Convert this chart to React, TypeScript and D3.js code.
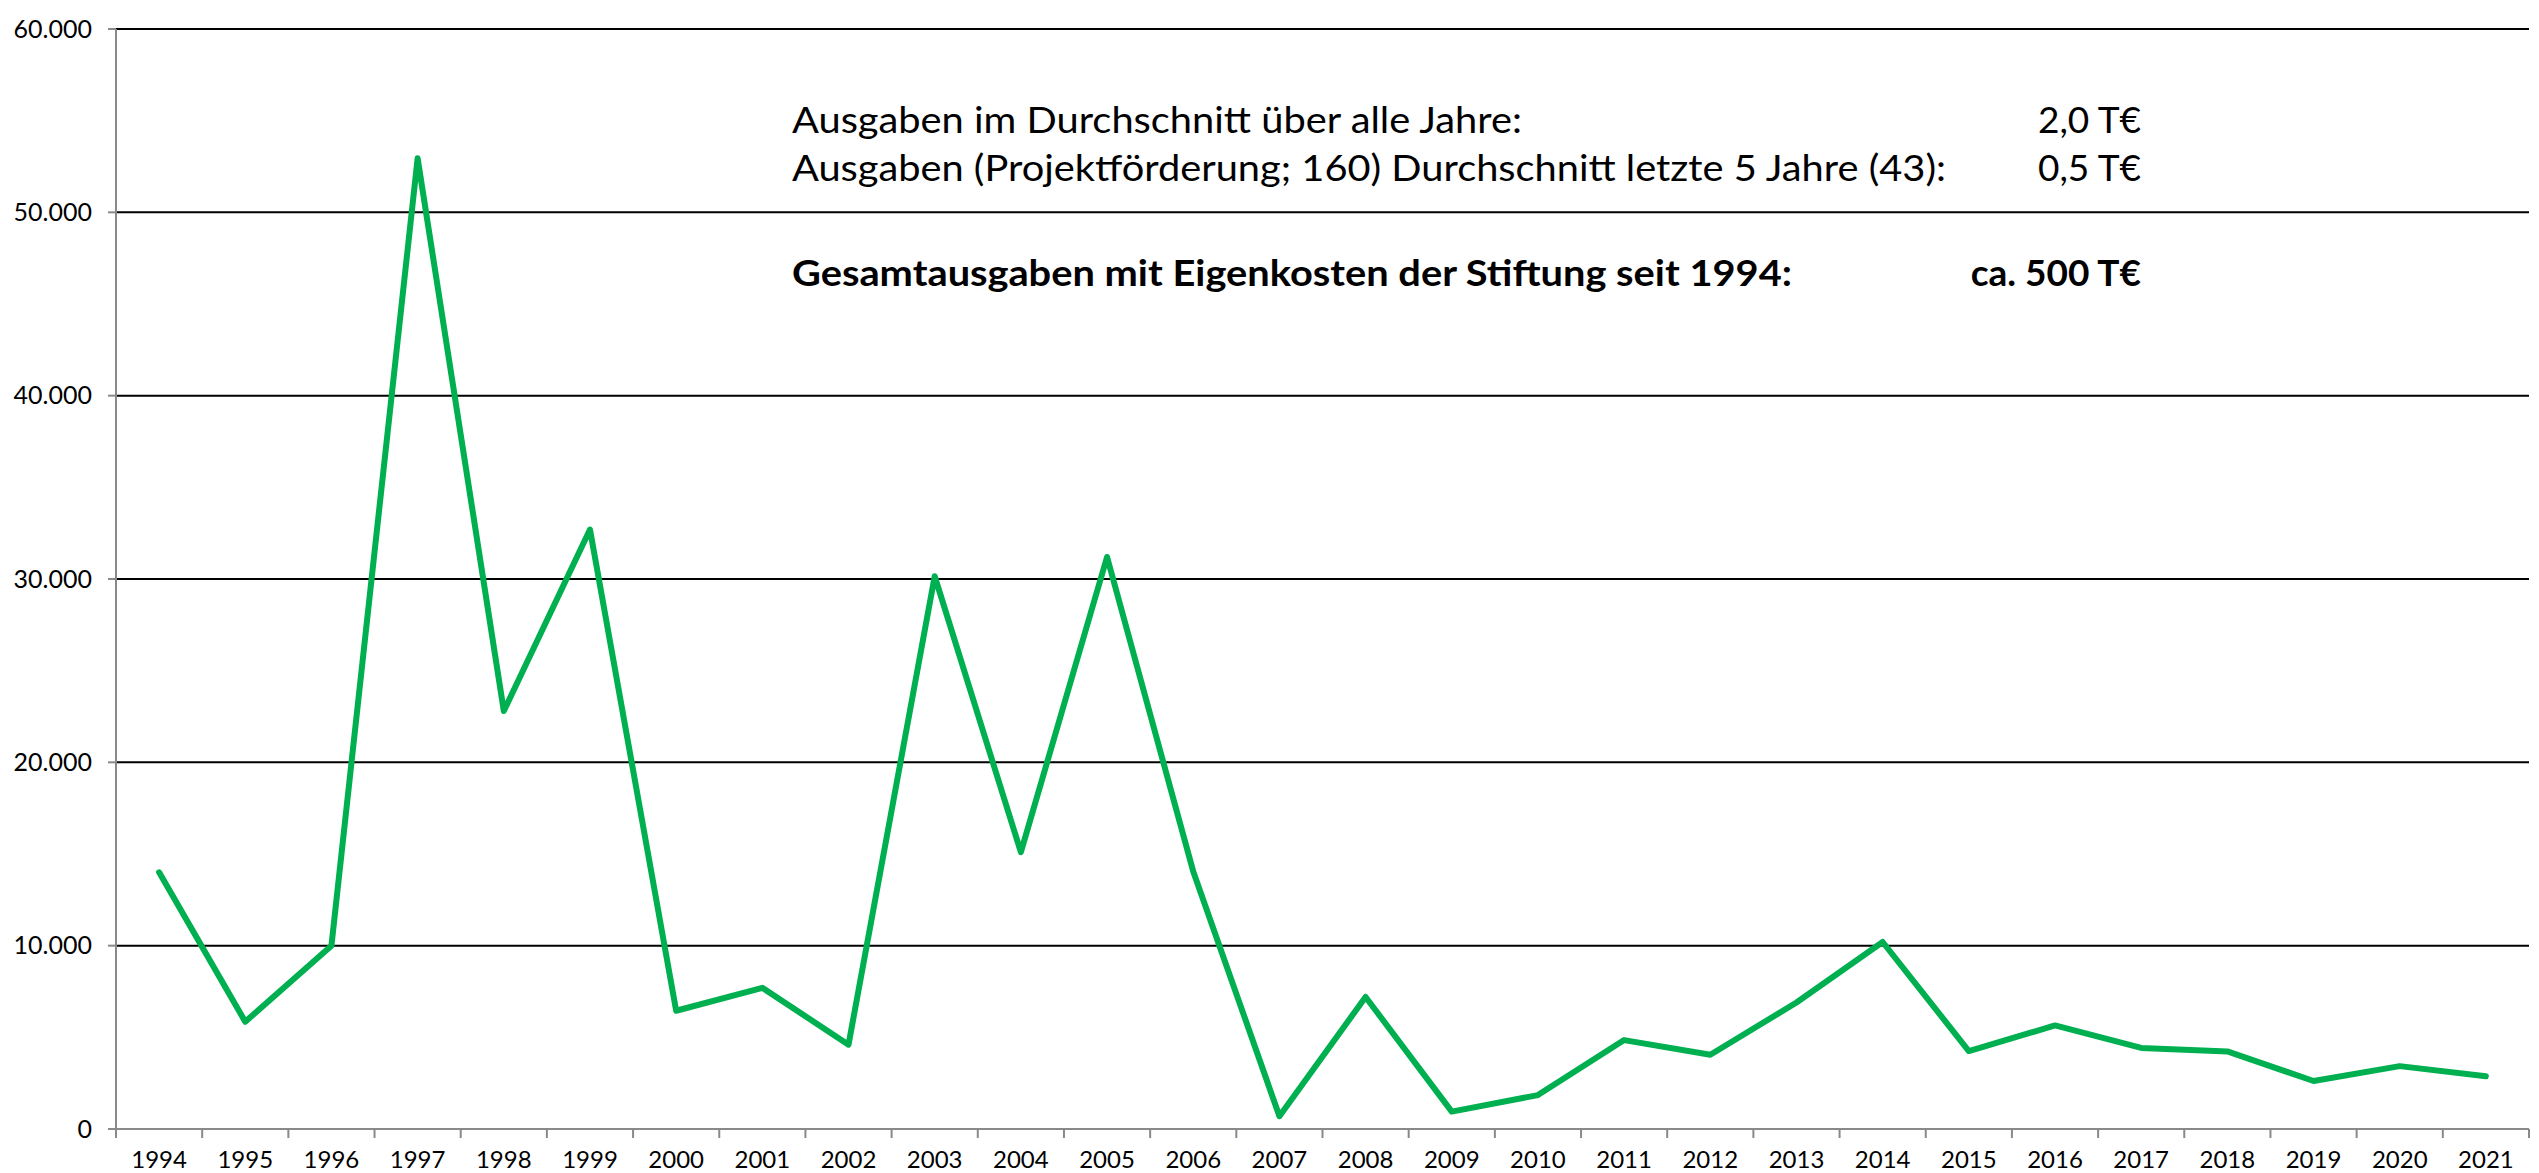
import React from "react";
import * as d3 from "d3";

const years = ["1994","1995","1996","1997","1998","1999","2000","2001","2002","2003","2004","2005","2006","2007","2008","2009","2010","2011","2012","2013","2014","2015","2016","2017","2018","2019","2020","2021"];
const expenses = [14000,5850,10000,52950,22800,32700,6450,7700,4600,30150,15100,31200,14050,700,7200,950,1850,4850,4050,6900,10200,4250,5650,4420,4230,2620,3430,2880];
const yTicks = [0,10000,20000,30000,40000,50000,60000];
const infoLines = [
  { label: "Ausgaben im Durchschnitt über alle Jahre:", value: "2,0 T€", bold: false },
  { label: "Ausgaben (Projektförderung; 160) Durchschnitt letzte 5 Jahre (43):", value: "0,5 T€", bold: false },
  { label: "Gesamtausgaben mit Eigenkosten der Stiftung seit 1994:", value: "ca. 500 T€", bold: true },
];

const W = 2539, H = 1173;
const left = 116, right = 2529, top = 29, bottom = 1129;
const font = "Lato, 'Open Sans', sans-serif";

export default function App() {
  const x = d3.scaleBand<string>().domain(years).range([left, right]);
  const y = d3.scaleLinear().domain([0, 60000]).range([bottom, top]);
  const line = d3.line<number>()
    .x((_, i) => (x(years[i]) as number) + x.bandwidth() / 2)
    .y((d) => y(d));
  const fmt = (v: number) => (v === 0 ? "0" : d3.format(",")(v).replace(/,/g, "."));
  const boundaries = years.map((yr) => x(yr) as number).concat([right]);
  const labelX = [792, 792, 792];
  const labelW = [730, 1154, 1000];
  const labelY = [133, 181, 286];
  const valRight = 2141;

  return (
    <svg width={W} height={H} style={{ position: "absolute", left: 0, top: 0, background: "#fff" }}>
      <rect x={0} y={0} width={W} height={H} fill="#fff" />
      {yTicks.filter((t) => t > 0).map((t) => (
        <line key={"g" + t} x1={left} x2={right} y1={y(t)} y2={y(t)} stroke="#000" strokeWidth={2} />
      ))}
      {yTicks.map((t) => (
        <line key={"yt" + t} x1={left - 8} x2={left} y1={y(t)} y2={y(t)} stroke="#898989" strokeWidth={2} />
      ))}
      <line x1={left} x2={left} y1={top} y2={bottom} stroke="#898989" strokeWidth={2} />
      <line x1={left - 8} x2={right} y1={bottom} y2={bottom} stroke="#898989" strokeWidth={2} />
      {boundaries.map((bx, i) => (
        <line key={"xt" + i} x1={bx} x2={bx} y1={bottom} y2={bottom + 9} stroke="#898989" strokeWidth={2} />
      ))}
      {yTicks.map((t) => (
        <text key={"yl" + t} x={92} y={y(t)} dy="0.35em" textAnchor="end" fontFamily={font} fontSize={25} fill="#000">
          {fmt(t)}
        </text>
      ))}
      {years.map((yr) => (
        <text key={"xl" + yr} x={(x(yr) as number) + x.bandwidth() / 2} y={1168} textAnchor="middle" fontFamily={font} fontSize={24} fill="#000">
          {yr}
        </text>
      ))}
      <path d={line(expenses) || ""} fill="none" stroke="#00B050" strokeWidth={6} strokeLinejoin="round" strokeLinecap="round" />
      {infoLines.map((l, i) => (
        <g key={"info" + i}>
          <text x={labelX[i]} y={labelY[i]} fontFamily={font} fontSize={37} fontWeight={l.bold ? 700 : 400} fill="#000"
            textLength={labelW[i]} lengthAdjust="spacingAndGlyphs">
            {l.label}
          </text>
          <text x={valRight} y={labelY[i]} textAnchor="end" fontFamily={font} fontSize={37} fontWeight={l.bold ? 700 : 400} fill="#000">
            {l.value}
          </text>
        </g>
      ))}
    </svg>
  );
}
